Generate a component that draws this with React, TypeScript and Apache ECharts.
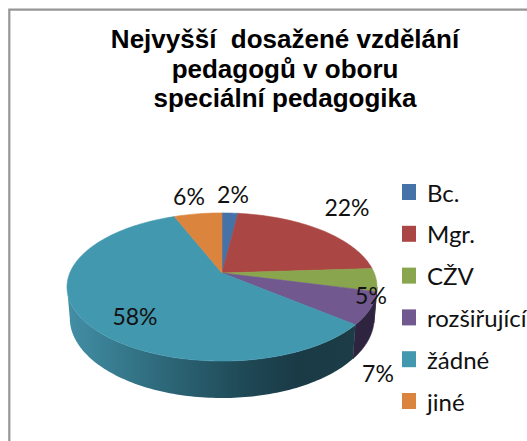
import React, { useEffect, useRef } from "react";
import * as echarts from "echarts";

const titleLines = ["Nejvyšší  dosažené vzdělání", "pedagogů v oboru", "speciální pedagogika"];
const categories = ["Bc.", "Mgr.", "CŽV", "rozšiřující", "žádné", "jiné"];
const values = [2, 22, 5, 7, 58, 6];
const colors = ["#4572a7", "#aa4643", "#89a54e", "#71588f", "#4198af", "#db843d"];
const wallColors = ["#26395a", "#5a2523", "#2f2440", "#2f2440", "#1c3c48", "#70431f"];
const labelPositions = [[233, 194], [189, 196], [347, 207], [371, 295], [378, 373], [135, 316]];
const labelOrder = [0, 5, 1, 2, 3, 4];

const FONT = "Lato";
const APEX_X = 222, APEX_Y = 273, A = 152.2, B = 71.4, K = 0.189, DEPTH = 30, SHRINK = 0.982;

const total = values.reduce((a, b) => a + b, 0);

function top(theta: number): [number, number, number] {
  const u = Math.sin(theta), v = Math.cos(theta), w = 1 + K * v;
  return [APEX_X + (A * u) / w, APEX_Y - (B * v) / w, w];
}
function bottom(theta: number): [number, number] {
  const [x, y, w] = top(theta);
  return [APEX_X + (x - APEX_X) * SHRINK, y + DEPTH / w];
}
function arc(a: number, b: number, f: (t: number) => number[]) {
  const pts: number[][] = [];
  const n = Math.max(2, Math.ceil(Math.abs(b - a) / 0.02));
  for (let i = 0; i <= n; i++) {
    const p = f(a + ((b - a) * i) / n);
    pts.push([p[0], p[1]]);
  }
  return pts;
}

const wideAngle = Math.acos(-K);
const wallStart = wideAngle;
const wallEnd = 2 * Math.PI - wideAngle;

function renderSlice(params: any, api: any) {
  const i = params.dataIndex;
  let before = 0;
  for (let j = 0; j < i; j++) before += values[j];
  const value = api.value(0);
  const a = (before / total) * 2 * Math.PI;
  const b = ((before + value) / total) * 2 * Math.PI;
  const children: any[] = [];
  const wa = Math.max(a, wallStart), wb = Math.min(b, wallEnd);
  if (wb > wa) {
    const isMain = i === 4;
    const fill = isMain
      ? new echarts.graphic.LinearGradient(0, 0, 1, 0, [
          { offset: 0, color: "#438fa6" },
          { offset: 0.3, color: "#2f6c7e" },
          { offset: 0.62, color: "#1f4855" },
          { offset: 0.8, color: "#1a3a46" },
          { offset: 1, color: "#1c3c48" },
        ])
      : wallColors[i];
    children.push({
      type: "polygon",
      shape: { points: [...arc(wa, wb, top), ...arc(wb, wa, bottom)] },
      style: { fill, stroke: isMain ? undefined : wallColors[i], lineWidth: 0.5 },
    });
  }
  children.push({
    type: "polygon",
    shape: { points: [[APEX_X, APEX_Y], ...arc(a, b, top)] },
    style: { fill: colors[i], stroke: colors[i], lineWidth: 0.6 },
  });
  return { type: "group", children };
}

export default function App() {
  const ref = useRef<HTMLDivElement>(null);
  useEffect(() => {
    document.body.style.margin = "0";
    const chart = echarts.init(ref.current!, null, { renderer: "svg" });
    chart.setOption({
      animation: false,
      backgroundColor: "#ffffff",
      legend: {
        orient: "vertical",
        left: 397,
        top: 175,
        height: 250,
        itemWidth: 14,
        itemHeight: 16,
        itemGap: 17.8,
        icon: "rect",
        data: categories,
        selectedMode: false,
        textStyle: { fontFamily: FONT, fontSize: 24, color: "#111111", padding: [0, 0, 0, 6] },
      },
      graphic: [
        { type: "rect", shape: { x: 9.3, y: 9.7, width: 600, height: 500 }, style: { fill: "none", stroke: "#969696", lineWidth: 2.2 } },
        ...titleLines.map((t, i) => ({
          type: "text",
          x: 285,
          y: 39 + i * 29.5,
          style: { text: t, fontFamily: "Liberation Sans", fontWeight: "bold", fontSize: 26, fill: "#000000", align: "center", verticalAlign: "middle" },
        })),
        ...labelOrder.map((idx, i) => ({
          type: "text",
          x: labelPositions[i][0],
          y: labelPositions[i][1],
          z: 10,
          style: { text: `${values[idx]}%`, fontFamily: FONT, fontSize: 23, fill: "#111111", align: "center", verticalAlign: "middle" },
        })),
      ],
      series: [
        {
          type: "pie",
          radius: [0, 0],
          center: [-50, -50],
          silent: true,
          label: { show: false },
          labelLine: { show: false },
          data: categories.map((name, i) => ({ name, value: values[i], itemStyle: { color: colors[i] } })),
        },
        {
          type: "custom",
          coordinateSystem: "none",
          renderItem: renderSlice,
          silent: true,
          data: values.map((v) => [v]),
          encode: { value: 0 },
        },
      ],
    });
    return () => chart.dispose();
  }, []);
  return <div ref={ref} style={{ width: 527, height: 441 }} />;
}
